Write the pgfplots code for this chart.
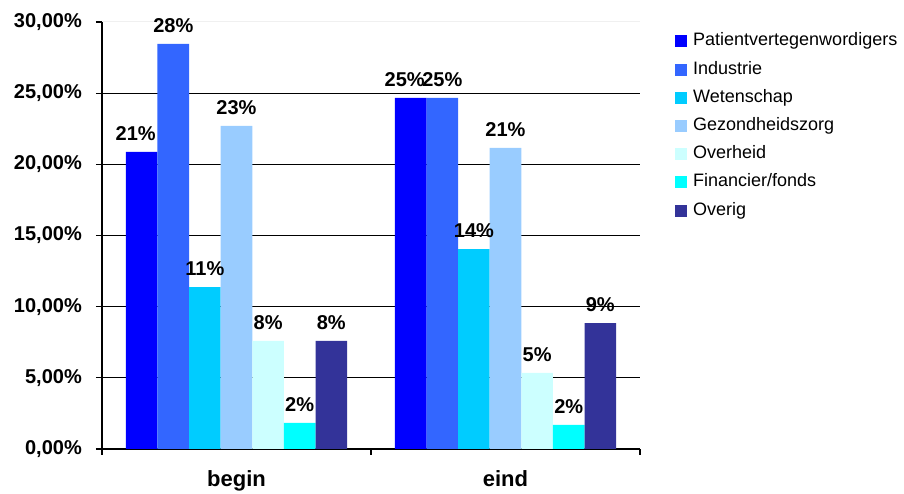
\documentclass[border=0pt]{standalone}
\usepackage{pgfplots}
\pgfplotsset{compat=1.18}
\usepackage{fontspec}
\setmainfont{Liberation Sans}
\definecolor{c1}{HTML}{0000FF}
\definecolor{c2}{HTML}{3366FF}
\definecolor{c3}{HTML}{00CCFF}
\definecolor{c4}{HTML}{99CCFF}
\definecolor{c5}{HTML}{CCFFFF}
\definecolor{c6}{HTML}{00FFFF}
\definecolor{c7}{HTML}{333399}
\newcommand\thirtylabel{30,00\%}
\begin{document}
\begin{tikzpicture}
\path[use as bounding box] (-102pt,-45pt) rectangle (802pt,449pt);
\begin{axis}[
  at={(0,0)}, anchor=south west,
  scale only axis, width=538pt, height=427pt,
  xmin=-0.5, xmax=1.5, ymin=0, ymax=30,
  ybar=0pt, bar width=31.6pt,
  axis x line*=bottom, axis y line*=left,
  axis line style={-, line width=1.5pt, black},
  tick align=outside, major tick length=6pt,
  tick style={black, line width=1.3pt},
  ytick={0,5,10,15,20,25},
  yticklabels={{0,00\%},{5,00\%},{10,00\%},{15,00\%},{20,00\%},{25,00\%}},
  extra y ticks={30}, extra y tick labels={\thirtylabel},
  extra y tick style={grid style={gray!12, line width=1pt}},
  ymajorgrids, grid style={black, line width=1.3pt},
  yticklabel style={font=\fontsize{20}{24}\selectfont\bfseries, anchor=east, inner sep=0pt, xshift=-14pt},
  xtick={-0.5,0.5,1.5}, xticklabels={},
  extra x ticks={0,1}, extra x tick labels={begin,eind},
  extra x tick style={major tick length=0pt},
  xticklabel style={font=\fontsize{22}{26}\selectfont\bfseries, anchor=north, inner sep=0pt, yshift=-21pt},
  clip=false,
  point meta=explicit symbolic,
  nodes near coords,
  every node near coord/.append style={font=\fontsize{20}{24}\selectfont\bfseries, anchor=south, inner sep=0pt, yshift=11pt, black},
  legend style={at={(1.065,0.975)}, anchor=north west, draw=none, fill=none, inner sep=0pt,
    font=\fontsize{18}{18}\selectfont,
    nodes={text height=13pt, text depth=4pt, inner sep=0pt, anchor=west},
    row sep=11.2pt,
    /tikz/every odd column/.append style={column sep=6pt}},
  legend cell align=left,
  legend image code/.code={\draw[#1,draw=none] (0pt,-6pt) rectangle (12pt,6pt);},
]
\addplot[fill=c1, draw=none, every node near coord/.append style={xshift=-6pt}] coordinates {(0,20.87)[21\%] (1,24.67)[25\%]};
\addplot[fill=c2, draw=none] coordinates {(0,28.46)[28\%] (1,24.67)[25\%]};
\addplot[fill=c3, draw=none] coordinates {(0,11.38)[11\%] (1,14.05)[14\%]};
\addplot[fill=c4, draw=none] coordinates {(0,22.70)[23\%] (1,21.15)[21\%]};
\addplot[fill=c5, draw=none] coordinates {(0,7.59)[8\%] (1,5.34)[5\%]};
\addplot[fill=c6, draw=none] coordinates {(0,1.83)[2\%] (1,1.69)[2\%]};
\addplot[fill=c7, draw=none] coordinates {(0,7.59)[8\%] (1,8.85)[9\%]};
\legend{Patientvertegenwordigers,Industrie,Wetenschap,Gezondheidszorg,Overheid,Financier/fonds,Overig}
\end{axis}
\end{tikzpicture}
\end{document}
